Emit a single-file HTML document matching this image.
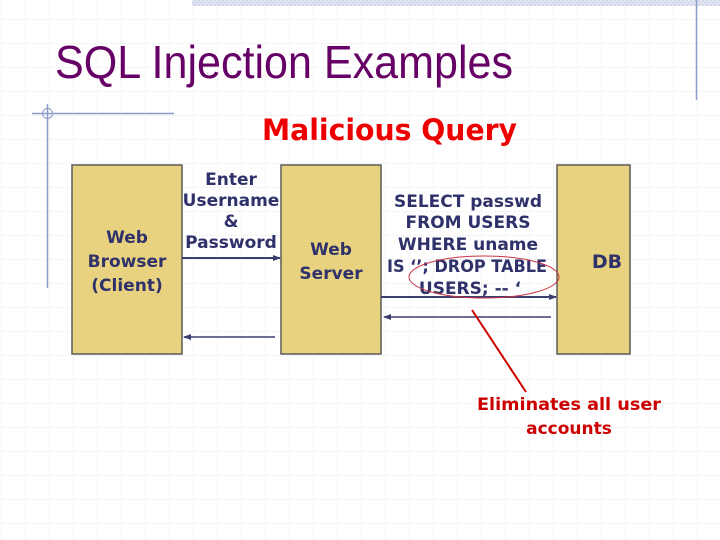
<!DOCTYPE html>
<html><head><meta charset="utf-8"><style>
html,body{margin:0;padding:0;background:#fff;}
svg{display:block;}
</style></head><body>
<svg width="720" height="540" viewBox="0 0 720 540" xmlns="http://www.w3.org/2000/svg">
<defs>
<pattern id="g" x="1" y="19" width="24" height="24" patternUnits="userSpaceOnUse">
<path d="M0 0H24M0 0V24" stroke="#d6d6d6" stroke-width="1" stroke-dasharray="1,1" fill="none"/>
</pattern>
<pattern id="h" width="4" height="4" patternUnits="userSpaceOnUse">
<rect width="4" height="4" fill="#e4e8f2"/><path d="M0 4L4 0" stroke="#c8cfe2"/>
</pattern>
<marker id="a" markerWidth="8" markerHeight="8" refX="7" refY="4" orient="auto" markerUnits="userSpaceOnUse">
<path d="M0 1L8 4L0 7z" fill="#3a3d6e"/>
</marker>
</defs>
<rect width="720" height="540" fill="url(#g)"/>
<rect x="192" y="0" width="528" height="6" fill="url(#h)"/>
<line x1="696.5" y1="0" x2="696.5" y2="100" stroke="#8c9cc8" stroke-width="1.5"/>
<line x1="32" y1="113.5" x2="174" y2="113.5" stroke="#8c9cc8" stroke-width="1.5"/>
<line x1="47.5" y1="104" x2="47.5" y2="288" stroke="#8c9cc8" stroke-width="1.5"/>
<circle cx="47.5" cy="113.5" r="5" fill="none" stroke="#8c9cc8"/>

<text x="55" y="78" font-family="Liberation Sans, sans-serif" font-size="46" fill="#660066" textLength="458" lengthAdjust="spacingAndGlyphs">SQL Injection Examples</text>
<text x="262" y="140" font-family="DejaVu Sans, sans-serif" font-weight="bold" font-size="29" fill="#ee0000" textLength="255" lengthAdjust="spacingAndGlyphs">Malicious Query</text>

<g fill="#e8d27f" stroke="#5a5a5a" stroke-width="1.5">
<rect x="72" y="165" width="110" height="189"/>
<rect x="281" y="165" width="100" height="189"/>
<rect x="557" y="165" width="73" height="189"/>
</g>

<g stroke="#3a3d6e" stroke-width="2" fill="none">
<line x1="182" y1="258" x2="280" y2="258" marker-end="url(#a)"/>
<line x1="275" y1="337" x2="184" y2="337" marker-end="url(#a)" stroke-width="1.5"/>
<line x1="381" y1="297" x2="556" y2="297" marker-end="url(#a)"/>
<line x1="551" y1="317" x2="384" y2="317" marker-end="url(#a)" stroke-width="1.5"/>
</g>

<g font-family="DejaVu Sans, sans-serif" font-weight="bold" fill="#2f326a" text-anchor="middle" font-size="17">
<text x="127" y="243">Web</text>
<text x="127" y="267">Browser</text>
<text x="127" y="291">(Client)</text>
<text x="231" y="185">Enter</text>
<text x="231" y="206">Username</text>
<text x="231" y="227">&amp;</text>
<text x="231" y="248">Password</text>
<text x="331" y="255">Web</text>
<text x="331" y="279">Server</text>
<text x="468" y="207">SELECT passwd</text>
<text x="468" y="228">FROM USERS</text>
<text x="468" y="250">WHERE uname</text>
<text x="467" y="272" textLength="160" lengthAdjust="spacingAndGlyphs">IS ‘’; DROP TABLE</text>
<text x="470" y="294">USERS; -- ‘</text>
<text x="607" y="268" font-size="19">DB</text>
</g>

<ellipse cx="484" cy="277" rx="75" ry="21" fill="none" stroke="#cc3344" stroke-width="1"/>
<line x1="526" y1="392" x2="472" y2="310" stroke="#cc0000" stroke-width="2"/>
<g font-family="DejaVu Sans, sans-serif" font-weight="bold" fill="#cc0000" text-anchor="middle" font-size="17">
<text x="569" y="410" textLength="184" lengthAdjust="spacingAndGlyphs">Eliminates all user</text>
<text x="569" y="434">accounts</text>
</g>
</svg>
</body></html>
